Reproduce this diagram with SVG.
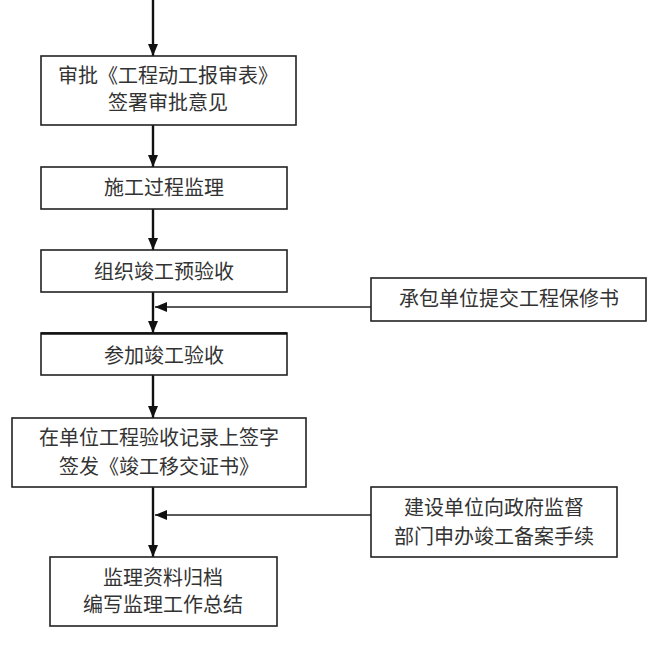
<svg xmlns="http://www.w3.org/2000/svg" width="663" height="649" viewBox="0 0 663 649">
<defs>
<marker id="ah" viewBox="0 0 12 10" refX="12" refY="5" markerWidth="12" markerHeight="10" markerUnits="userSpaceOnUse" orient="auto">
<path d="M0,0 L12,5 L0,10 z" fill="#111"/>
</marker>
</defs>
<style>
.box{fill:#fff;stroke:#222;stroke-width:1.6}
.t{font-family:"Noto Sans CJK SC","Noto Sans CJK JP",sans-serif;font-size:20px;fill:#333;text-anchor:middle}
.main{stroke:#111;stroke-width:2.4;fill:none}
.side{stroke:#222;stroke-width:1.6;fill:none}
</style>
<rect width="663" height="649" fill="#fff"/>
<g id="connectors">
<line class="main" x1="153" y1="0" x2="153" y2="56" marker-end="url(#ah)"/>
<line class="main" x1="153" y1="125" x2="153" y2="167" marker-end="url(#ah)"/>
<line class="main" x1="153" y1="209" x2="153" y2="250" marker-end="url(#ah)"/>
<line class="main" x1="153" y1="292" x2="153" y2="333" marker-end="url(#ah)"/>
<line class="main" x1="153" y1="375" x2="153" y2="418" marker-end="url(#ah)"/>
<line class="main" x1="153" y1="487" x2="153" y2="557" marker-end="url(#ah)"/>
<line class="side" x1="371" y1="307" x2="155" y2="307" marker-end="url(#ah)"/>
<line class="side" x1="371" y1="515" x2="155" y2="515" marker-end="url(#ah)"/>
</g>
<g id="n1">
<rect class="box" x="41" y="56" width="255" height="69"/>
<text class="t" x="168" y="83">审批《工程动工报审表》</text>
<text class="t" x="168" y="110">签署审批意见</text>
</g>
<g id="n2">
<rect class="box" x="41" y="167" width="246" height="42"/>
<text class="t" x="164" y="195">施工过程监理</text>
</g>
<g id="n3">
<rect class="box" x="41" y="250" width="246" height="42"/>
<text class="t" x="164" y="279">组织竣工预验收</text>
</g>
<g id="n4">
<rect class="box" x="41" y="333" width="246" height="42"/>
<line x1="41" y1="333.5" x2="287" y2="333.5" stroke="#111" stroke-width="2.6"/>
<text class="t" x="164" y="363">参加竣工验收</text>
</g>
<g id="n5">
<rect class="box" x="12" y="418" width="294" height="69"/>
<text class="t" x="159" y="445">在单位工程验收记录上签字</text>
<text class="t" x="159" y="474">签发《竣工移交证书》</text>
</g>
<g id="n6">
<rect class="box" x="50" y="557" width="227" height="69"/>
<text class="t" x="163" y="585">监理资料归档</text>
<text class="t" x="163" y="612">编写监理工作总结</text>
</g>
<g id="r1">
<rect class="box" x="371" y="278" width="275" height="43"/>
<text class="t" x="509" y="306">承包单位提交工程保修书</text>
</g>
<g id="r2">
<rect class="box" x="371" y="487" width="246" height="70"/>
<text class="t" x="494" y="515">建设单位向政府监督</text>
<text class="t" x="494" y="544">部门申办竣工备案手续</text>
</g>
</svg>
